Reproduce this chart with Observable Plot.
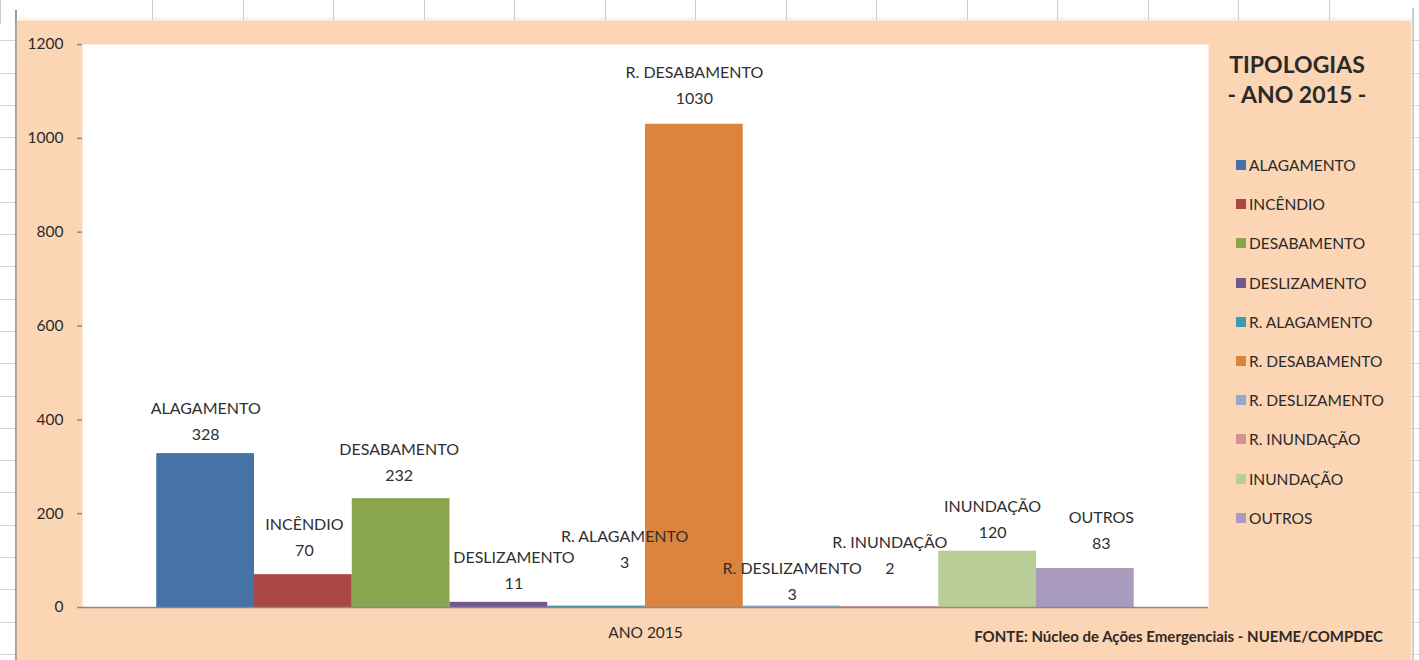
<!DOCTYPE html>
<html>
<head>
<meta charset="utf-8">
<script src="https://cdn.jsdelivr.net/npm/d3@7"></script>
<script src="https://cdn.jsdelivr.net/npm/@observablehq/plot@0.6"></script>
<style>
  html, body { margin: 0; padding: 0; }
  body { width: 1419px; height: 660px; overflow: hidden; position: relative; background: #fff; font-family: Lato, "Open Sans", sans-serif; }
  #rows { position: absolute; left: 0; top: 0; width: 1419px; height: 660px;
    background-image: repeating-linear-gradient(to bottom, transparent 0px, transparent 31.3px, #d6d6d6 31.3px, #d6d6d6 32.3px);
    background-position: 0 9px; }
  #cols { position: absolute; left: 0; top: 0; width: 1419px; height: 24px; background: #fff;
    background-image: repeating-linear-gradient(to right, transparent 0px, transparent 89.5px, #cfcfcf 89.5px, #cfcfcf 90.5px);
    background-position: 63px 0; }
  #edgeL { position: absolute; left: 15px; top: 10px; width: 1.5px; height: 650px; background: #9a9a9a; }
  #edgeR { position: absolute; left: 1412px; top: 8px; width: 1.5px; height: 652px; background: #c8ccd4; }
  #peach { position: absolute; left: 17px; top: 21px; width: 1394px; height: 645px; background: #FCD5B5;
    box-shadow: 0 -2px 4px rgba(252,213,181,0.6); }
  #chart { position: absolute; left: 0; top: 0; }
  #legend { position: absolute; left: 1226px; top: 49px; width: 180px; color: #2a2a2a; }
  #legend .title { font-weight: 700; font-size: 23px; line-height: 30px; width: 142px; text-align: center; }
  #legend .items { margin-top: 48px; }
  #legend .item { height: 39.2px; font-size: 15.5px; display: flex; align-items: flex-start; line-height: 16px; }
  #legend .sw { width: 10px; height: 10px; margin: 3px 3px 0 10px; flex: none; }
  #fonte { position: absolute; right: 36px; top: 627px; font-size: 15px; font-weight: 700; color: #2e2a26; white-space: nowrap; }
</style>
</head>
<body>
<div id="rows"></div>
<div id="cols"></div>
<div id="edgeL"></div>
<div id="edgeR"></div>
<div id="peach"></div>
<div id="chart"></div>
<div id="legend"></div>
<div id="fonte"></div>
<script>
// ---- data ----
const ano = "ANO 2015";
const tipologias = ["ALAGAMENTO", "INCÊNDIO", "DESABAMENTO", "DESLIZAMENTO", "R. ALAGAMENTO",
  "R. DESABAMENTO", "R. DESLIZAMENTO", "R. INUNDAÇÃO", "INUNDAÇÃO", "OUTROS"];
const ocorrencias = [328, 70, 232, 11, 3, 1030, 3, 2, 120, 83];
const cores = ["#4572A7", "#AA4643", "#89A54E", "#71588F", "#4198AF",
  "#DB843D", "#93A9CF", "#D19392", "#B9CD96", "#A99BBD"];
const yTicks = [0, 200, 400, 600, 800, 1000, 1200];
const tituloLegenda = ["TIPOLOGIAS", "- ANO 2015 -"];
const fonte = "FONTE: Núcleo de Ações Emergenciais - NUEME/COMPDEC";

// ---- label placement (styling only: px nudges of the data labels, as dragged in the original) ----
const labelDx = [0, 1, -2, 15, 28, 0, 0, 0, 5, 16];
const labelGap = [19, 24, 23, 18, 43, 25, 11, 38, 18, 25];
const nameGap = 26;

const rows = tipologias.map((t, i) => ({ano, tipo: t, valor: ocorrencias[i]}));

const textStyle = {fontFamily: "Lato, 'Open Sans', sans-serif", fontSize: 16, fill: "#2f2f2f", lineAnchor: "middle"};

const labelMarks = [];
rows.forEach((d, i) => {
  labelMarks.push(Plot.text([d], {fx: "ano", x: "tipo", y: "valor", text: r => String(r.valor),
    dx: labelDx[i], dy: -labelGap[i], ...textStyle}));
  labelMarks.push(Plot.text([d], {fx: "ano", x: "tipo", y: "valor", text: "tipo",
    dx: labelDx[i], dy: -labelGap[i] - nameGap, ...textStyle}));
});

const chart = Plot.plot({
  width: 1419,
  height: 660,
  marginLeft: 82,
  marginRight: 211,
  marginTop: 44,
  marginBottom: 53,
  style: {background: "transparent", fontFamily: "Lato, 'Open Sans', sans-serif", overflow: "visible"},
  fx: {domain: [ano], padding: 0, label: null, round: false},
  x: {domain: tipologias, paddingInner: 0, paddingOuter: 0.76, axis: null, round: false},
  y: {domain: [0, 1200], label: null},
  color: {domain: tipologias, range: cores},
  marks: [
    Plot.frame({fill: "white", stroke: null}),
    Plot.barY(rows, {fx: "ano", x: "tipo", y: "valor", fill: "tipo", inset: 0}),
    Plot.ruleY([0], {stroke: "#8a8a8a", strokeWidth: 1.5}),
    Plot.axisY({ticks: yTicks, tickFormat: d => String(d), tickSize: 5, tickPadding: 14, line: true, label: null,
      stroke: "#8a8a8a", fill: "#2a2a2a", fontSize: 15.5, strokeWidth: 1.5}),
    Plot.axisFx({anchor: "bottom", tickSize: 0, tickPadding: 19, label: null, fontSize: 15.5, fill: "#2a2a2a"}),
    ...labelMarks
  ]
});
document.getElementById("chart").appendChild(chart);

// ---- legend ----
const legend = document.getElementById("legend");
legend.innerHTML = `<div class="title">${tituloLegenda.map(t => `<div>${t}</div>`).join("")}</div>` +
  `<div class="items">${tipologias.map((t, i) =>
    `<div class="item"><span class="sw" style="background:${cores[i]}"></span><span>${t}</span></div>`).join("")}</div>`;

document.getElementById("fonte").textContent = fonte;
</script>
</body>
</html>
